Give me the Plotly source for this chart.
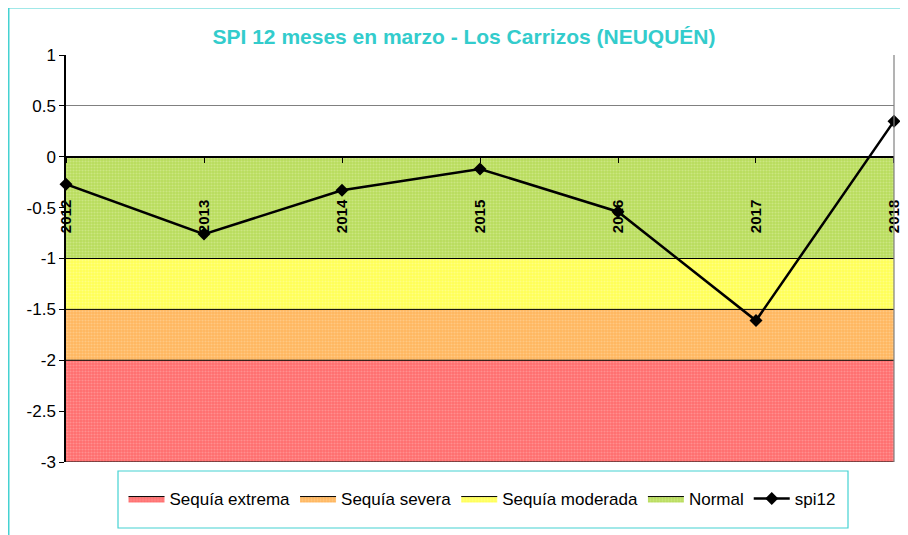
import plotly.graph_objects as go

years = [2012, 2013, 2014, 2015, 2016, 2017, 2018]
spi12 = [-0.27, -0.76, -0.33, -0.12, -0.54, -1.61, 0.35]

band_names = ["Sequía extrema", "Sequía severa", "Sequía moderada", "Normal"]
band_bottom = -3.0
band_tops = [-2.0, -1.5, -1.0, 0.0]
band_bg = ["#FF6E6E", "#FFB65E", "#FFFF55", "#B8DC5C"]
band_fg = ["#FFB0B0", "#FFD9A8", "#FFFFB0", "#DDF0A8"]

ytick_vals = [1, 0.5, 0, -0.5, -1, -1.5, -2, -2.5, -3]
ytick_text = ["1", "0.5", "0", "-0.5", "-1", "-1.5", "-2", "-2.5", "-3"]

FONT = "Liberation Sans, Arial, sans-serif"
OFF = 8  # page body margin offset
W, H = 908 - OFF, 535 - OFF
L, R, T, B = 66 - OFF, 894 - OFF, 55 - OFF, 462 - OFF


def px_x(x):
    return (x - OFF - L) / (R - L)


def px_y(y):
    return (B - (y - OFF)) / (B - T)


fig = go.Figure()

fig.add_trace(go.Scatter(
    x=years, y=[band_bottom] * len(years), mode="lines",
    line=dict(color="black", width=1), showlegend=False, hoverinfo="skip",
))
for name, top, bg, fg in zip(band_names, band_tops, band_bg, band_fg):
    fig.add_trace(go.Scatter(
        x=years, y=[top] * len(years), mode="lines", name=name,
        line=dict(color="black", width=1),
        fill="tonexty", fillcolor=bg,
        fillpattern=dict(shape=".", bgcolor=bg, fgcolor=fg, size=3, solidity=0.4),
    ))

fig.add_trace(go.Scatter(
    x=years, y=spi12, mode="lines+markers", name="spi12",
    line=dict(color="black", width=2.5),
    marker=dict(symbol="diamond", size=10, color="black"),
    cliponaxis=False,
))

shapes = [
    dict(type="rect", xref="paper", yref="paper",
         x0=px_x(8), x1=px_x(914), y0=px_y(541), y1=px_y(7),
         line=dict(color="#44D2D2", width=3), fillcolor="rgba(0,0,0,0)", layer="below"),
    dict(type="rect", xref="paper", yref="paper",
         x0=px_x(118), x1=px_x(848), y0=px_y(528), y1=px_y(471),
         line=dict(color="#44D2D2", width=1.2), fillcolor="rgba(0,0,0,0)"),
    dict(type="line", xref="paper", yref="paper",
         x0=1, x1=1, y0=0, y1=1, line=dict(color="#808080", width=1.2)),
]

fig.update_layout(
    width=W, height=H,
    margin=dict(l=L, r=W - R, t=T, b=H - B, autoexpand=False),
    paper_bgcolor="white", plot_bgcolor="white",
    font=dict(family=FONT, size=14, color="black"),
    title=dict(
        text="<b>SPI 12 meses en marzo - Los Carrizos (NEUQUÉN)</b>",
        font=dict(family=FONT, size=21, color="#33CCCC"),
        x=(464 - OFF) / W, xanchor="center", y=1 - (37 - OFF) / H, yanchor="middle",
    ),
    xaxis=dict(
        range=[2011.9999, 2018.0001], tickvals=years, ticktext=[str(y) for y in years],
        anchor="free", position=0.75, showline=True, linecolor="black", linewidth=2,
        ticks="outside", ticklen=5, tickcolor="black", tickangle=-90,
        tickfont=dict(family=FONT, size=15, color="black", weight="bold"),
        ticklabelstandoff=31, showgrid=False, zeroline=False, automargin=False,
    ),
    yaxis=dict(
        range=[-3, 1], tickvals=ytick_vals, ticktext=ytick_text,
        showline=True, linecolor="black", linewidth=1.5,
        ticks="outside", ticklen=5, tickcolor="black",
        showgrid=True, gridcolor="#808080", gridwidth=1, zeroline=False,
        tickfont=dict(family=FONT, size=17, color="black"), automargin=False,
    ),
    legend=dict(
        orientation="h", x=px_x(482), xanchor="center", y=px_y(499), yanchor="middle",
        font=dict(family=FONT, size=17, color="black"), bgcolor="rgba(0,0,0,0)",
        itemwidth=36, traceorder="normal",
    ),
    shapes=shapes,
    showlegend=True,
)

fig.write_html("out.html")
